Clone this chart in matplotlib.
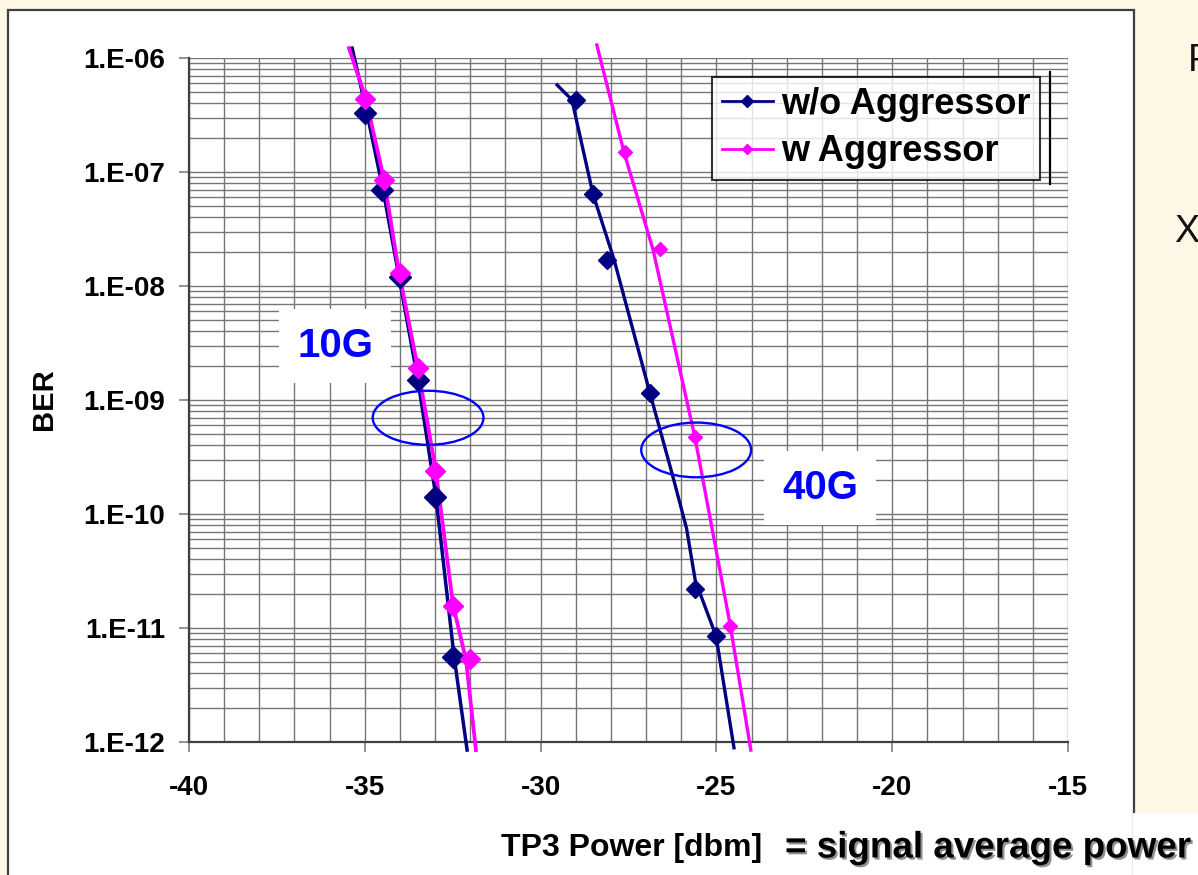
import matplotlib
matplotlib.use("Agg")
import matplotlib.pyplot as plt
import matplotlib.patheffects as pe
from matplotlib.patches import Rectangle, Ellipse
from matplotlib.lines import Line2D
from matplotlib.ticker import LogLocator, MultipleLocator, FixedLocator

W, H = 1198, 875
CREAM = "#fef7e6"
NAVY = "#000080"
MAGENTA = "#ff00ff"
BLUE = "#0000ff"

# measured points (TP3 power [dBm], BER)
g10_wo_x = [-35.0, -34.5, -34.0, -33.5, -33.0, -32.5]
g10_wo_y = [3.3e-7, 6.9e-8, 1.2e-8, 1.5e-9, 1.4e-10, 5.6e-12]
g10_w_x = [-35.0, -34.45, -34.0, -33.5, -33.0, -32.5, -32.0]
g10_w_y = [4.4e-7, 8.5e-8, 1.3e-8, 1.9e-9, 2.4e-10, 1.55e-11, 5.3e-12]
g40_wo_x = [-29.0, -28.5, -28.1, -26.9, -25.6, -25.0]
g40_wo_y = [4.3e-7, 6.4e-8, 1.7e-8, 1.15e-9, 2.2e-11, 8.5e-12]
g40_w_x = [-27.6, -26.6, -25.6, -24.6]
g40_w_y = [1.5e-7, 2.1e-8, 4.7e-10, 1.05e-11]

# trend curves
c10_wo_x = [-35.36, -34.94, -34.48, -34.03, -33.49, -32.98, -32.46, -32.09]
c10_wo_y = [1.22e-6, 3.3e-7, 6.95e-8, 1.22e-8, 1.5e-9, 1.44e-10, 5.6e-12, 8.5e-13]
c10_w_x = [-35.45, -34.97, -34.45, -34.03, -33.49, -32.98, -32.49, -32.12, -31.84]
c10_w_y = [1.22e-6, 4.4e-7, 8.5e-8, 1.33e-8, 1.9e-9, 2.4e-10, 1.6e-11, 5.2e-12, 8.5e-13]
c40_wo_x = [-29.53, -29.11, -28.51, -27.91, -26.89, -26.25, -25.85, -25.6, -25.01, -24.50]
c40_wo_y = [5.8e-7, 4.3e-7, 6.4e-8, 1.7e-8, 1.15e-9, 2.2e-10, 7.5e-11, 2.6e-11, 8.5e-12, 8.9e-13]
c40_w_x = [-28.40, -27.63, -26.80, -25.61, -24.61, -24.02]
c40_w_y = [1.3e-6, 1.5e-7, 2.07e-8, 4.7e-10, 1.07e-11, 8.5e-13]

XTICKS = [-40, -35, -30, -25, -20, -15]
YTICKS = [1e-6, 1e-7, 1e-8, 1e-9, 1e-10, 1e-11, 1e-12]
YLABELS = ["1.E-06", "1.E-07", "1.E-08", "1.E-09", "1.E-10", "1.E-11", "1.E-12"]

plt.rcParams["font.family"] = ["Liberation Sans", "DejaVu Sans"]


def fx(x):
    return x / W


def fy(y):
    return 1 - y / H


def main():
    fig = plt.figure(figsize=(W / 100, H / 100), dpi=100, facecolor=CREAM)

    # slide panel
    fig.patches.append(Rectangle((fx(8), fy(880)), fx(1134 - 8), (880 - 10) / H,
                                 transform=fig.transFigure, facecolor="white",
                                 edgecolor="#404040", linewidth=1.6, zorder=-2))
    fig.patches.append(Rectangle((fx(1133), fy(880)), fx(80), (880 - 813) / H,
                                 transform=fig.transFigure, facecolor="white",
                                 edgecolor="none", zorder=-1))

    ax = fig.add_axes([fx(189), fy(742), fx(1068 - 189), (742 - 58) / H])
    ax.set_facecolor("white")
    ax.set_yscale("log")
    ax.set_xlim(-40, -15)
    ax.set_ylim(1e-12, 1e-6)

    ax.xaxis.set_major_locator(FixedLocator(XTICKS))
    ax.xaxis.set_minor_locator(MultipleLocator(1))
    ax.yaxis.set_major_locator(FixedLocator(YTICKS))
    ax.yaxis.set_minor_locator(LogLocator(base=10, subs=range(2, 10), numticks=20))
    ax.set_xticklabels([str(t) for t in XTICKS])
    ax.set_yticklabels(YLABELS)
    ax.tick_params(which="major", length=7, width=1.2, color="#808080",
                   labelsize=20)
    ax.tick_params(axis="x", which="major", pad=17)
    ax.tick_params(axis="y", which="major", pad=10)
    ax.tick_params(which="minor", length=0)
    for lab in ax.get_xticklabels() + ax.get_yticklabels():
        lab.set_fontweight("bold")

    ax.grid(True, which="both", color="#767676", linewidth=1.0)
    ax.set_axisbelow(True)
    for s in ("top", "right"):
        ax.spines[s].set_visible(False)
    for s in ("left", "bottom"):
        ax.spines[s].set_color("#404040")
        ax.spines[s].set_linewidth(1.6)

    # curves
    ax.plot(c10_wo_x, c10_wo_y, color=NAVY, lw=2.5, clip_on=False, zorder=3)
    ax.plot(c10_w_x, c10_w_y, color=MAGENTA, lw=2.7, clip_on=False, zorder=3)
    ax.plot(c40_wo_x, c40_wo_y, color=NAVY, lw=2.4, clip_on=False, zorder=3)
    ax.plot(c40_w_x, c40_w_y, color=MAGENTA, lw=2.4, clip_on=False, zorder=3)

    # markers
    ax.plot(g10_wo_x, g10_wo_y, ls="none", marker="D", ms=11.5, color=NAVY, zorder=4)
    ax.plot(g10_w_x, g10_w_y, ls="none", marker="D", ms=10.5, color=MAGENTA, zorder=4)
    ax.plot(g40_wo_x, g40_wo_y, ls="none", marker="D", ms=9.5, color=NAVY, zorder=4)
    ax.plot(g40_w_x, g40_w_y, ls="none", marker="D", ms=7.5, color=MAGENTA, zorder=4)

    # ellipses and labels
    ax.add_patch(Ellipse((0.272, 0.474), 0.126, 0.079, transform=ax.transAxes,
                         fill=False, edgecolor=BLUE, lw=1.7, zorder=5))
    ax.add_patch(Ellipse((0.577, 0.427), 0.125, 0.080, transform=ax.transAxes,
                         fill=False, edgecolor=BLUE, lw=1.7, zorder=5))
    box = dict(boxstyle="square,pad=0.45", facecolor="white", edgecolor="none")
    ax.text((335 - 189) / 879, (742 - 346) / 684, "10G", transform=ax.transAxes,
            ha="center", va="center", fontsize=29, fontweight="bold",
            color=BLUE, bbox=box, zorder=2.5)
    ax.text((820 - 189) / 879, (742 - 488) / 684, "40G", transform=ax.transAxes,
            ha="center", va="center", fontsize=29, fontweight="bold",
            color=BLUE, bbox=box, zorder=2.5)

    handles = [Line2D([], [], color=NAVY, lw=2, marker="D", ms=6),
               Line2D([], [], color=MAGENTA, lw=2, marker="D", ms=5)]
    leg = ax.legend(handles, ["w/o Aggressor", "w Aggressor"],
                    loc="upper left", bbox_to_anchor=((712 - 189) / 879, (742 - 77) / 684),
                    borderaxespad=0, frameon=True, fancybox=False,
                    prop={"weight": "bold", "size": 26}, labelspacing=0.34,
                    handlelength=1.4, handletextpad=0.22, borderpad=0.28)
    leg.get_frame().set_edgecolor("black")
    leg.get_frame().set_linewidth(1.5)
    leg.set_zorder(6)
    fig.add_artist(Line2D([fx(1050), fx(1050)], [fy(72), fy(184)],
                          color="black", lw=1.6))

    fig.text(fx(44), fy(399), "BER", rotation=90, ha="center", va="center",
             fontsize=21, fontweight="bold")
    fig.text(fx(632), fy(848), "TP3 Power [dbm]", ha="center", va="center",
             fontsize=23, fontweight="bold")
    fig.text(fx(785), fy(848), "= signal average power", ha="left", va="center",
             fontsize=26.5, fontweight="bold",
             path_effects=[pe.withSimplePatchShadow(offset=(1.5, -1.5),
                                                    shadow_rgbFace="#909090",
                                                    alpha=1)])
    fig.text(fx(1188), fy(61), "P", ha="left", va="center", fontsize=27, color="#111111")
    fig.text(fx(1174), fy(232), "X", ha="left", va="center", fontsize=27, color="#111111")

    fig.savefig("out.png", dpi=100, facecolor=CREAM)


if __name__ == "__main__":
    main()
